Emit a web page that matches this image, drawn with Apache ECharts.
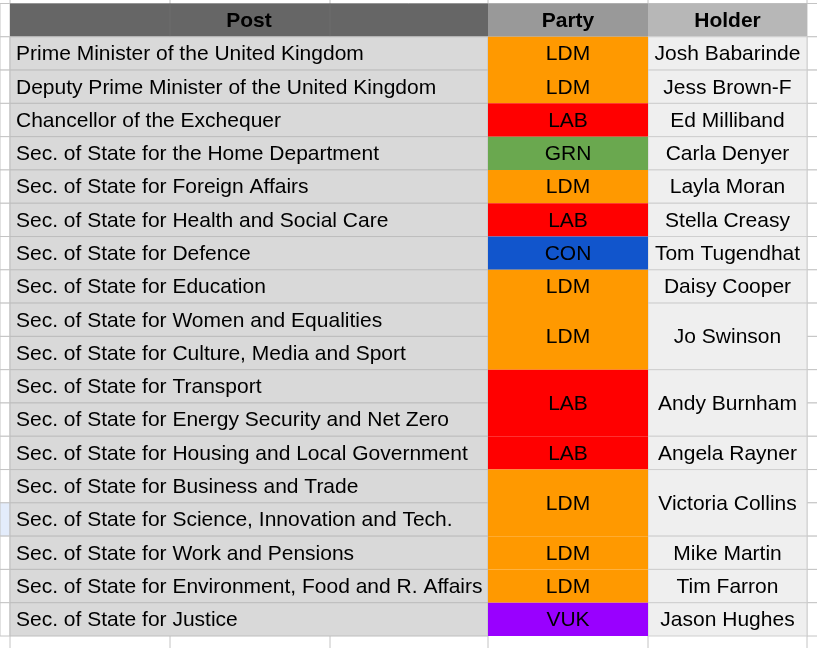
<!DOCTYPE html>
<html>
<head>
<meta charset="utf-8">
<script src="https://cdn.jsdelivr.net/npm/echarts@6/dist/echarts.min.js"></script>
<style>html,body{margin:0;padding:0;background:#fff;}#c{width:817px;height:648px;}</style>
</head>
<body>
<div id="c"></div>
<script>
// ---- data ----
const headers = ['Post', 'Party', 'Holder'];
const posts = [
  'Prime Minister of the United Kingdom',
  'Deputy Prime Minister of the United Kingdom',
  'Chancellor of the Exchequer',
  'Sec. of State for the Home Department',
  'Sec. of State for Foreign Affairs',
  'Sec. of State for Health and Social Care',
  'Sec. of State for Defence',
  'Sec. of State for Education',
  'Sec. of State for Women and Equalities',
  'Sec. of State for Culture, Media and Sport',
  'Sec. of State for Transport',
  'Sec. of State for Energy Security and Net Zero',
  'Sec. of State for Housing and Local Government',
  'Sec. of State for Business and Trade',
  'Sec. of State for Science, Innovation and Tech.',
  'Sec. of State for Work and Pensions',
  'Sec. of State for Environment, Food and R. Affairs',
  'Sec. of State for Justice'
];
const parties = ['LDM','LDM','LAB','GRN','LDM','LAB','CON','LDM','LDM','LAB','LAB','LDM','LDM','LDM','VUK'];
const holders = ['Josh Babarinde','Jess Brown-F','Ed Milliband','Carla Denyer','Layla Moran','Stella Creasy',
  'Tom Tugendhat','Daisy Cooper','Jo Swinson','Andy Burnham','Angela Rayner','Victoria Collins',
  'Mike Martin','Tim Farron','Jason Hughes'];
const rowSpans = [1,1,1,1,1,1,1,1,2,2,1,2,1,1,1];
const partyColors = { LDM: '#ff9900', LAB: '#ff0000', GRN: '#6aa84f', CON: '#1155cc', VUK: '#9900ff' };
const selectedRow = 14;

// ---- layout constants ----
const colEdges = [0, 478, 638, 797];
const headerFills = ['#666666', '#999999', '#b7b7b7'];
const FONT = '"Liberation Sans", Arial, Helvetica, sans-serif';
const GRID = '#c4c4c4';

const groupData = [];
let r = 0;
rowSpans.forEach((s, i) => { groupData.push([r, s, parties[i], holders[i]]); r += s; });

const chart = echarts.init(document.getElementById('c'), null, { renderer: 'canvas' });

function marginCells(api, yTop, yBot, fillLeft) {
  const W = api.getWidth();
  const xl = api.coord([colEdges[0], 0])[0];
  const xr = api.coord([colEdges[3], 0])[0];
  return [
    { type: 'rect', shape: { x: 0, y: yTop, width: xl, height: yBot - yTop },
      style: { fill: fillLeft || '#fff', stroke: GRID, lineWidth: 1 } },
    { type: 'rect', shape: { x: xr, y: yTop, width: W - xr + 2, height: yBot - yTop },
      style: { fill: '#fff', stroke: GRID, lineWidth: 1 } }
  ];
}

chart.setOption({
  animation: false,
  grid: { left: 10, right: 10, top: 3.5, bottom: 12 },
  xAxis: { type: 'value', min: colEdges[0], max: colEdges[3], show: false },
  yAxis: { type: 'value', min: -1, max: posts.length, inverse: true, show: false },
  series: [
    { // frame strips (top and bottom)
      type: 'custom', silent: true, data: [[0]],
      renderItem: function (params, api) {
        const H = api.getHeight();
        const yTop = api.coord([0, -1])[1];
        const yBot = api.coord([0, posts.length])[1];
        const xs = [api.coord([colEdges[0], 0])[0], 170, 330, api.coord([colEdges[1], 0])[0],
          api.coord([colEdges[2], 0])[0], api.coord([colEdges[3], 0])[0]];
        const ch = [];
        xs.forEach(x => {
          ch.push({ type: 'line', shape: { x1: x, y1: 0, x2: x, y2: yTop }, style: { stroke: GRID, lineWidth: 1 } });
          ch.push({ type: 'line', shape: { x1: x, y1: yBot, x2: x, y2: H }, style: { stroke: GRID, lineWidth: 1 } });
        });
        ch.push({ type: 'line', shape: { x1: 0, y1: yTop, x2: api.getWidth(), y2: yTop }, style: { stroke: GRID, lineWidth: 1 } });
        return { type: 'group', children: ch };
      }
    },
    { // header
      type: 'custom', silent: true,
      data: headers.map((h, i) => [i, h]),
      renderItem: function (params, api) {
        const i = api.value(0);
        const p0 = api.coord([colEdges[i], -1]);
        const p1 = api.coord([colEdges[i + 1], 0]);
        const ch = [];
        if (i === 0) ch.push.apply(ch, marginCells(api, p0[1], p1[1]));
        ch.push({ type: 'rect', shape: { x: p0[0], y: p0[1], width: p1[0] - p0[0], height: p1[1] - p0[1] },
          style: { fill: headerFills[i] } });
        if (i === 0) {
          [170, 330].forEach(x => ch.push({ type: 'line', shape: { x1: x, y1: p0[1], x2: x, y2: p1[1] },
            style: { stroke: '#6d6d6d', lineWidth: 1 } }));
        }
        ch.push({ type: 'text', style: { x: (p0[0] + p1[0]) / 2, y: (p0[1] + p1[1]) / 2 + 1, text: headers[i],
          fill: '#000', font: 'bold 21px ' + FONT, align: 'center', verticalAlign: 'middle' } });
        return { type: 'group', children: ch };
      }
    },
    { // post column
      type: 'custom', silent: true,
      data: posts.map((p, i) => [i, p]),
      renderItem: function (params, api) {
        const i = api.value(0);
        const p0 = api.coord([colEdges[0], i]);
        const p1 = api.coord([colEdges[1], i + 1]);
        const ch = marginCells(api, p0[1], p1[1], i === selectedRow ? '#e3ecfb' : '#fff');
        ch.push({ type: 'rect', shape: { x: p0[0], y: p0[1], width: p1[0] - p0[0], height: p1[1] - p0[1] },
          style: { fill: '#d9d9d9', stroke: '#bebebe', lineWidth: 1 } });
        ch.push({ type: 'text', style: { x: p0[0] + 6, y: (p0[1] + p1[1]) / 2 + 1, text: posts[i],
          fill: '#000', font: '21px ' + FONT, align: 'left', verticalAlign: 'middle' } });
        return { type: 'group', children: ch };
      }
    },
    { // party + holder
      type: 'custom', silent: true,
      data: groupData,
      renderItem: function (params, api) {
        const idx = params.dataIndex;
        const d = groupData[idx];
        const start = d[0], span = d[1];
        const a0 = api.coord([colEdges[1], start]);
        const a1 = api.coord([colEdges[2], start + span]);
        const b1 = api.coord([colEdges[3], start + span]);
        const ym = (a0[1] + a1[1]) / 2 + 1;
        return { type: 'group', children: [
          { type: 'rect', shape: { x: a1[0], y: a0[1], width: b1[0] - a1[0], height: a1[1] - a0[1] },
            style: { fill: '#efefef', stroke: '#cfcfcf', lineWidth: 1 } },
          { type: 'rect', shape: { x: a0[0], y: a0[1], width: a1[0] - a0[0], height: a1[1] - a0[1] },
            style: { fill: partyColors[d[2]] } },
          { type: 'text', style: { x: (a0[0] + a1[0]) / 2, y: ym, text: d[2], fill: '#000',
            font: '21px ' + FONT, align: 'center', verticalAlign: 'middle' } },
          { type: 'text', style: { x: (a1[0] + b1[0]) / 2, y: ym, text: d[3], fill: '#000',
            font: '21px ' + FONT, align: 'center', verticalAlign: 'middle' } }
        ] };
      }
    }
  ]
});
</script>
</body>
</html>
